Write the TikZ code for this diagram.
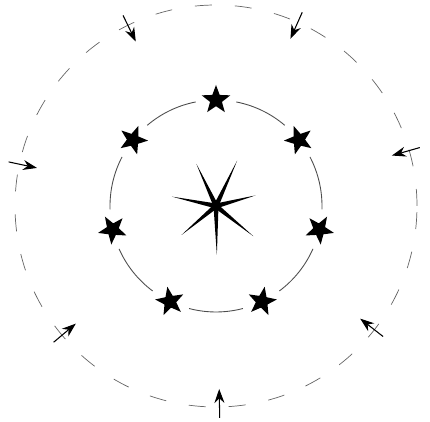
\documentclass[tikz,border=0pt]{standalone}
\usetikzlibrary{shapes.geometric,arrows.meta}
\begin{document}
\begin{tikzpicture}[
    starnode/.style={star, star points=5, star point ratio=2.4, fill=black, draw=none, minimum size=0.6cm, inner sep=0pt},
    ring/.style={draw=black!70, line width=0.5pt},
    outerring/.style={draw=black!60, line width=0.4pt, dash pattern=on 0.34cm off 0.46cm},
    inarrow/.style={-{Stealth[length=2.8mm,width=2mm]}, line width=0.6pt}]

    \useasboundingbox (0,0) rectangle (8.6,8.44);
    \coordinate (c) at (4.32,4.32);

    % outer dashed ring
    \draw[outerring] (c) circle (4.02);

    % stars on the inner ring
    \foreach \i in {0,...,6} {
        \pgfmathsetmacro{\ang}{90+\i*360/7}
        \node[starnode, rotate=\ang-90] (s\i) at ([shift={(\ang:2.12)}]c) {};
        \draw[ring] ([shift={(\ang+11:2.12)}]c) arc[start angle=\ang+11, end angle=\ang+40.43, radius=2.12];
    }

    % arrows pointing in
    \foreach \a in {16,66,116,168,220,271,322} {
        \coordinate (t\a) at ([shift={(\a:4.24)}]c);
        \coordinate (h\a) at ([shift={(\a:3.66)}]c);
        \draw[inarrow] (t\a) -- (h\a);
    }

    % central star
    \foreach \a/\len in {15/0.82,65/1.0,115/0.93,168/0.9,220/0.9,271/0.98,321/0.96}
        \fill ([shift={(\a+90:0.05)}]c) -- ([shift={(\a:\len)}]c) -- ([shift={(\a-90:0.05)}]c) -- cycle;
    \fill (c) circle (0.07);
\end{tikzpicture}
\end{document}
